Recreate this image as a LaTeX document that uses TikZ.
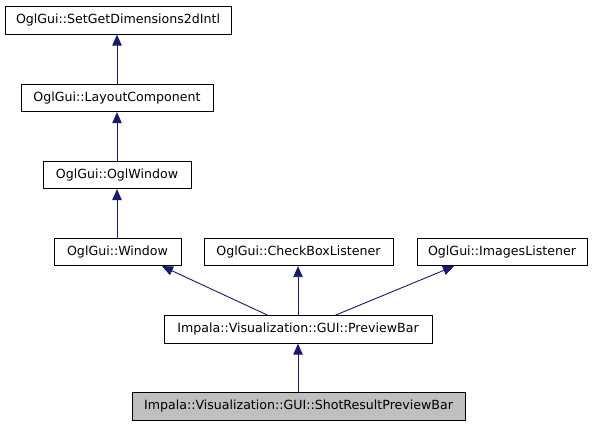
\documentclass[tikz,border=0pt]{standalone}
\usepackage{fontspec}
\setmainfont{DejaVu Sans}
\usetikzlibrary{arrows.meta}
\definecolor{edgeblue}{HTML}{191970}
\tikzset{
  cls/.style={draw=black, line width=0.8pt, minimum height=27.5pt, inner sep=0pt, font=\fontsize{12.6}{14}\selectfont},
  edge/.style={draw=edgeblue, line width=0.9pt, -{Triangle[length=11pt,width=9.5pt]}}
}
\begin{document}
\begin{tikzpicture}[x=1pt,y=1pt]
\useasboundingbox (0,0) rectangle (593,-427);
\node[cls, minimum width=226pt] (A) at (118,-20.5) {OglGui::SetGetDimensions2dIntl};
\node[cls, minimum width=192pt] (B) at (117,-98) {OglGui::LayoutComponent};
\node[cls, minimum width=148pt] (C) at (117,-175) {OglGui::OglWindow};
\node[cls, minimum width=127pt] (D) at (117.5,-252) {OglGui::Window};
\node[cls, minimum width=189pt] (E) at (298.5,-252) {OglGui::CheckBoxListener};
\node[cls, minimum width=170pt] (F) at (502,-252) {OglGui::ImagesListener};
\node[cls, minimum width=268pt] (G) at (298,-329.5) {Impala::Visualization::GUI::PreviewBar};
\node[cls, minimum width=333pt, fill=black!25] (H) at (298.5,-406.5) {Impala::Visualization::GUI::ShotResultPreviewBar};
\draw[edge] (G.south |- H.north) -- (G.south);
\draw[edge] ([xshift=-30pt]G.north) -- ([xshift=44.5pt]D.south);
\draw[edge] (G.north) -- (G.north |- E.south);
\draw[edge] ([xshift=37pt]G.north) -- ([xshift=-48pt]F.south);
\draw[edge] (C.south |- D.north) -- (C.south);
\draw[edge] (C.north) -- (B.south);
\draw[edge] (B.north) -- (B.north |- A.south);
\end{tikzpicture}
\end{document}
